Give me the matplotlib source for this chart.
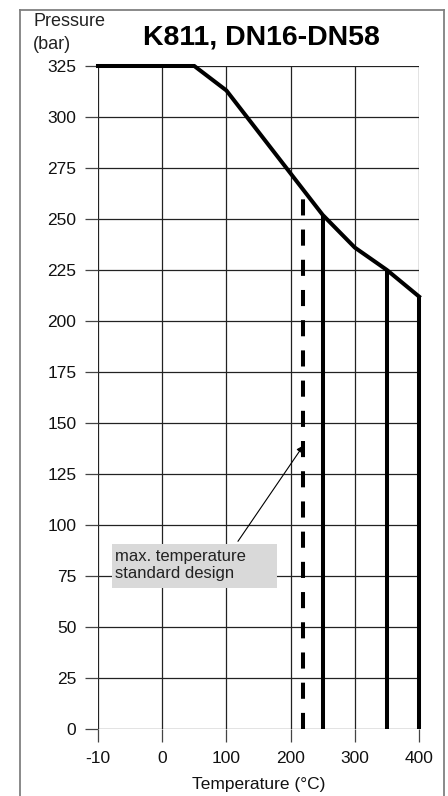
import numpy as np
import matplotlib.pyplot as plt
from matplotlib.patches import Rectangle
from matplotlib.lines import Line2D

plt.rcParams['font.family'] = ['Liberation Sans', 'DejaVu Sans']

# data
temps = [-10, 50, 100, 250, 300, 350, 400]
pressures = [325, 325, 313, 252, 236, 225, 212]
limit_temps = [250, 350, 400]
limit_press = [252, 225, 212]
std_temp = 220
std_press = 265
arrow_tip = (220, 139)
arrow_tail = (118, 92)

x_ticks = [-10, 0, 100, 200, 300, 400]
y_ticks = list(range(0, 326, 25))
title = 'K811, DN16-DN58'
note = 'max. temperature\nstandard design'

# -10..0 gets the same width as 0..100
tick_pos = np.arange(len(x_ticks))
def fwd(t):
    return np.interp(t, x_ticks, tick_pos, left=-1e9, right=1e9)
def inv(p):
    return np.interp(p, tick_pos, x_ticks)

fig = plt.figure(figsize=(4.48, 7.96), dpi=100)
ax = fig.add_axes([98/448, 1-729/796, 321/448, 663/796])
ax.set_xscale('function', functions=(fwd, inv))
ax.set_xlim(-10, 400)
ax.set_ylim(0, 325)
ax.set_xticks(x_ticks)
ax.set_xticklabels([str(v) for v in x_ticks])
ax.set_yticks(y_ticks)
ax.grid(True, color='#222222', lw=0.9, zorder=0)
ax.set_axisbelow(True)
for s in ax.spines.values():
    s.set_visible(False)
ax.tick_params(length=9.5, width=0.9, color='#444444', labelsize=12.5,
               labelcolor='#111111', direction='out')
ax.tick_params(axis='y', pad=6)
ax.tick_params(axis='x', pad=6)
ax.set_xlabel('Temperature (°C)', fontsize=12.5, color='#111111', labelpad=8)

# curve + limits
ax.plot(temps, pressures, color='black', lw=2.9, solid_joinstyle='miter',
        zorder=3, clip_on=False)
ax.vlines(limit_temps, 0, limit_press, color='black', lw=2.9, zorder=3, clip_on=False)
ax.vlines(std_temp, 0, std_press, color='black', lw=2.9, linestyles=(0, (4.0, 3.5)),
          zorder=3, clip_on=False)

# note box
ax.add_patch(Rectangle((0.0436, 0.2127), 0.514, 0.0663, transform=ax.transAxes,
                       facecolor='#d9d9d9', edgecolor='none', zorder=2))
ax.text(0.053, 0.247, note, transform=ax.transAxes, fontsize=12, va='center',
        ha='left', color='#222222', linespacing=1.2, zorder=4)
ax.annotate('', xy=arrow_tip, xytext=arrow_tail,
            arrowprops=dict(arrowstyle='-|>', color='black', lw=0.8,
                            mutation_scale=10, shrinkA=0, shrinkB=0), zorder=4)

fig.text(0.583, 0.953, title, fontsize=20.5, fontweight='bold', ha='center', va='center')
fig.text(33/448, 1-13/796, 'Pressure\n(bar)', fontsize=13, ha='left', va='top',
         color='#222222', linespacing=1.45)

# outer frame
fx0, fx1, fy1 = 20/448, 444/448, 1-10/796
for xs, ys in [([fx0, fx0], [0, fy1]), ([fx0, fx1], [fy1, fy1]), ([fx1, fx1], [fy1, 0])]:
    fig.add_artist(Line2D(xs, ys, transform=fig.transFigure, color='#808080', lw=1.3))

fig.savefig('out.png', dpi=100)
